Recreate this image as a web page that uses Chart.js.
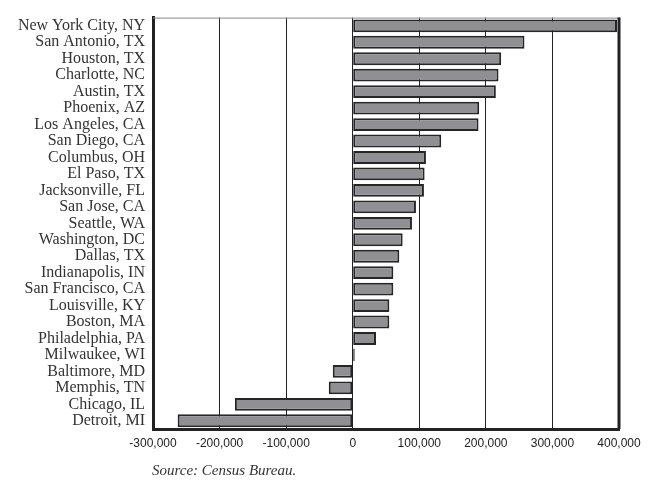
<!DOCTYPE html>
<html>
<head>
<meta charset="utf-8">
<script src="https://cdn.jsdelivr.net/npm/chart.js@4"></script>
<style>
  body { margin: 0; background: #fff; }
  #wrap { position: relative; width: 660px; height: 480px; }
  #source {
    position: absolute; left: 152px; top: 462px;
    font-family: "Liberation Serif", "DejaVu Serif", serif;
    font-style: italic; font-size: 15px; line-height: 17px; color: #333;
  }
</style>
</head>
<body>
<div id="wrap">
  <canvas id="chart" width="660" height="480"></canvas>
  <div id="source">Source: Census Bureau.</div>
</div>
<script>
const cities = [
  "New York City, NY", "San Antonio, TX", "Houston, TX", "Charlotte, NC", "Austin, TX",
  "Phoenix, AZ", "Los Angeles, CA", "San Diego, CA", "Columbus, OH", "El Paso, TX",
  "Jacksonville, FL", "San Jose, CA", "Seattle, WA", "Washington, DC", "Dallas, TX",
  "Indianapolis, IN", "San Francisco, CA", "Louisville, KY", "Boston, MA", "Philadelphia, PA",
  "Milwaukee, WI", "Baltimore, MD", "Memphis, TN", "Chicago, IL", "Detroit, MI"
];
const popChange = [
  397000, 258000, 223000, 219000, 215000,
  190000, 189000, 133000, 110000, 108000,
  107000, 95000, 89000, 75000, 70000,
  61000, 61000, 55000, 55000, 35000,
  3000, -30000, -36000, -177000, -263000
];
const xMin = -300000;
const xMax = 400000;
const xStep = 100000;

// top (thin gray) and right (thick) frame lines
const framePlugin = {
  id: "frame",
  afterDraw(chart) {
    const { ctx, chartArea: a } = chart;
    ctx.save();
    ctx.strokeStyle = "#888";
    ctx.lineWidth = 1;
    ctx.beginPath();
    ctx.moveTo(a.left, a.top + 0.5);
    ctx.lineTo(a.right, a.top + 0.5);
    ctx.stroke();
    ctx.strokeStyle = "#222";
    ctx.lineWidth = 3;
    ctx.beginPath();
    ctx.moveTo(a.right, a.top);
    ctx.lineTo(a.right, a.bottom);
    ctx.stroke();
    ctx.restore();
  }
};

new Chart(document.getElementById("chart"), {
  type: "bar",
  data: {
    labels: cities,
    datasets: [{
      data: popChange,
      backgroundColor: "#909094",
      borderColor: "#262626",
      borderWidth: 2,
      borderSkipped: false,
      barPercentage: 0.78,
      categoryPercentage: 1
    }]
  },
  options: {
    indexAxis: "y",
    responsive: false,
    animation: false,
    layout: { padding: { left: 0, top: 5, right: 41, bottom: 26 } },
    plugins: {
      legend: { display: false },
      tooltip: { enabled: false }
    },
    scales: {
      x: {
        min: xMin,
        max: xMax,
        afterFit: s => { s.height = 25; },
        ticks: {
          stepSize: xStep,
          padding: 7,
          color: "#222",
          font: { family: "'Liberation Sans', 'DejaVu Sans', sans-serif", size: 12 },
          callback: v => v.toLocaleString("en-US")
        },
        grid: { color: "#222", lineWidth: 1, drawTicks: false },
        border: { display: true, color: "#222", width: 3 }
      },
      y: {
        afterFit: s => { s.width = 153; },
        ticks: {
          padding: 8,
          color: "#333",
          autoSkip: false,
          font: { family: "'Liberation Serif', 'DejaVu Serif', serif", size: 16 }
        },
        grid: { display: false, drawTicks: false },
        border: { display: true, color: "#222", width: 3 }
      }
    }
  },
  plugins: [framePlugin]
});
</script>
</body>
</html>
